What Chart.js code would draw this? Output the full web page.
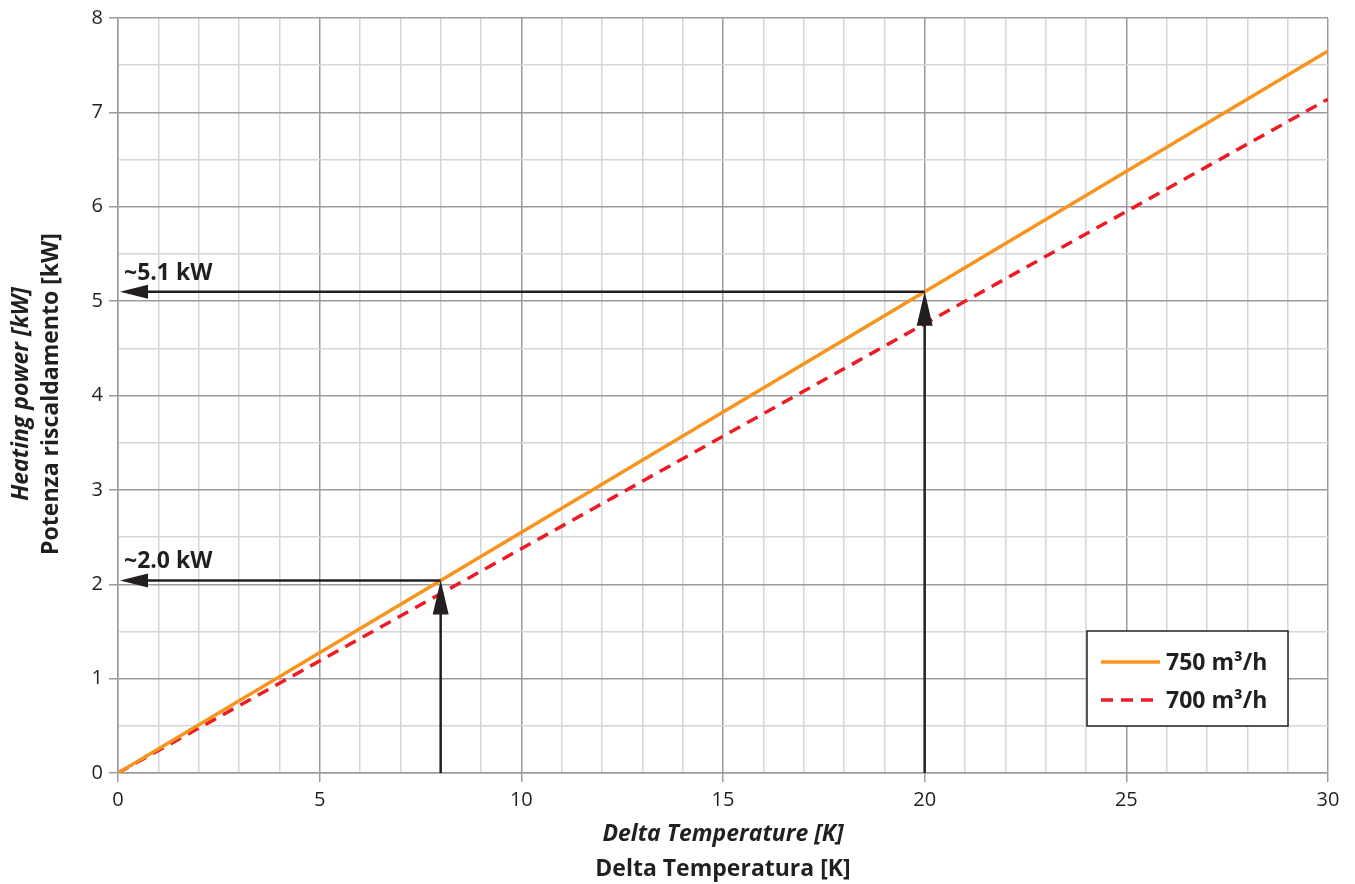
<!DOCTYPE html>
<html>
<head>
<meta charset="utf-8">
<script src="https://cdn.jsdelivr.net/npm/chart.js@4.4.0/dist/chart.umd.min.js"></script>
<style>
  html, body { margin: 0; padding: 0; background: #fff; }
  #wrap { width: 1355px; height: 884px; }
</style>
</head>
<body>
<div id="wrap"><canvas id="chart" width="1355" height="884"></canvas></div>
<script>
// Delta temperature [K] sample points
const deltaT = [0, 8, 20, 30];
const power750 = [0, 2.04, 5.1, 7.65];
const power700 = [0, 1.9, 4.76, 7.14];
const seriesLabels = ['750 m³/h', '700 m³/h'];

// reading arrows: from the x axis up to the 750 line, then left to the y axis
const arrowX = [8, 20];
const arrowY = [2.04, 5.1];
const arrowLabels = ['~2.0 kW', '~5.1 kW'];

const FONT = '"Open Sans", "Noto Sans", sans-serif';
const INK = '#231f20';
const MAJOR = '#9b9b9b';
const MINOR = '#d6d6d6';

function toPoints(xs, ys) {
    return xs.map((x, i) => ({ x: x, y: ys[i] }));
}

// draws the two reading arrows with their labels
const arrowPlugin = {
    id: 'arrows',
    afterDatasetsDraw(chart) {
        const ctx = chart.ctx;
        const xs = chart.scales.x;
        const ys = chart.scales.y;
        ctx.save();
        ctx.strokeStyle = INK;
        ctx.fillStyle = INK;
        ctx.lineWidth = 2.5;
        arrowX.forEach((xv, i) => {
            const px = xs.getPixelForValue(xv);
            const py = ys.getPixelForValue(arrowY[i]);
            const x0 = xs.getPixelForValue(0);
            const y0 = ys.getPixelForValue(0);
            // vertical shaft
            ctx.beginPath();
            ctx.moveTo(px, y0);
            ctx.lineTo(px, py + 30);
            ctx.stroke();
            // up head
            ctx.beginPath();
            ctx.moveTo(px, py);
            ctx.lineTo(px - 8, py + 34);
            ctx.lineTo(px + 8, py + 34);
            ctx.closePath();
            ctx.fill();
            // horizontal shaft
            ctx.beginPath();
            ctx.moveTo(px, py);
            ctx.lineTo(x0 + 26, py);
            ctx.stroke();
            // left head
            ctx.beginPath();
            ctx.moveTo(x0 + 2, py);
            ctx.lineTo(x0 + 30, py - 7);
            ctx.lineTo(x0 + 30, py + 7);
            ctx.closePath();
            ctx.fill();
            // label
            ctx.font = 'bold 23px ' + FONT;
            ctx.textAlign = 'left';
            ctx.textBaseline = 'alphabetic';
            ctx.fillText(arrowLabels[i], x0 + 6, py - 12);
        });
        ctx.restore();
    }
};

// boxed legend inside the plot, lower right
const legendPlugin = {
    id: 'boxLegend',
    afterDraw(chart) {
        const ctx = chart.ctx;
        const area = chart.chartArea;
        const w = 201, h = 95;
        const left = area.right - 241;
        const top = area.bottom - 142;
        ctx.save();
        ctx.fillStyle = '#fff';
        ctx.fillRect(left, top, w, h);
        ctx.strokeStyle = INK;
        ctx.lineWidth = 1.5;
        ctx.strokeRect(left, top, w, h);
        chart.data.datasets.forEach((ds, i) => {
            const yy = top + 31 + i * 38;
            ctx.strokeStyle = ds.borderColor;
            ctx.lineWidth = 3.5;
            ctx.setLineDash(ds.borderDash || []);
            ctx.beginPath();
            ctx.moveTo(left + 14, yy);
            ctx.lineTo(left + 73, yy);
            ctx.stroke();
            ctx.setLineDash([]);
            ctx.fillStyle = INK;
            ctx.font = 'bold 23px ' + FONT;
            ctx.textAlign = 'left';
            ctx.textBaseline = 'middle';
            ctx.fillText(ds.label, left + 79, yy + 1);
        });
        ctx.restore();
    }
};

// two-line axis titles: English in bold italic, Italian in bold
const titlePlugin = {
    id: 'axisTitles',
    afterDraw(chart) {
        const ctx = chart.ctx;
        const area = chart.chartArea;
        const cx = (area.left + area.right) / 2;
        ctx.save();
        ctx.fillStyle = INK;
        ctx.textAlign = 'center';
        ctx.textBaseline = 'middle';
        ctx.font = 'italic bold 23px ' + FONT;
        ctx.fillText('Delta Temperature [K]', cx, 834);
        ctx.font = 'bold 23px ' + FONT;
        ctx.fillText('Delta Temperatura [K]', cx, 869);
        ctx.translate(21, 394);
        ctx.rotate(-Math.PI / 2);
        ctx.font = 'italic bold 23px ' + FONT;
        ctx.fillText('Heating power [kW]', 0, 0);
        ctx.font = 'bold 23px ' + FONT;
        ctx.fillText('Potenza riscaldamento [kW]', 0, 30);
        ctx.restore();
    }
};

const gridColor = (step) => (c) => {
    const v = c.tick ? c.tick.value : 0;
    return Math.abs(v / step - Math.round(v / step)) < 1e-6 ? MAJOR : MINOR;
};
const tickMarkColor = (step) => (c) => {
    const v = c.tick ? c.tick.value : 0;
    return Math.abs(v / step - Math.round(v / step)) < 1e-6 ? MAJOR : 'rgba(0,0,0,0)';
};

new Chart(document.getElementById('chart').getContext('2d'), {
    type: 'line',
    data: {
        datasets: [
            {
                label: seriesLabels[0],
                data: toPoints(deltaT, power750),
                borderColor: '#f7941d',
                borderWidth: 3.5,
                pointRadius: 0,
                fill: false,
                order: 1
            },
            {
                label: seriesLabels[1],
                data: toPoints(deltaT, power700),
                borderColor: '#ed1c24',
                borderWidth: 3.5,
                borderDash: [12, 8],
                pointRadius: 0,
                fill: false,
                order: 2
            }
        ]
    },
    options: {
        responsive: false,
        animation: false,
        layout: { padding: { top: 17, right: 27, left: 0, bottom: 0 } },
        plugins: {
            legend: { display: false },
            tooltip: { enabled: false }
        },
        scales: {
            x: {
                type: 'linear',
                min: 0,
                max: 30,
                afterFit: (s) => { s.height = 111; },
                border: { display: true, color: MAJOR, width: 1.5 },
                grid: {
                    color: gridColor(5),
                    tickColor: tickMarkColor(5),
                    lineWidth: 1.5,
                    tickLength: 9
                },
                ticks: {
                    stepSize: 1,
                    autoSkip: false,
                    maxRotation: 0,
                    padding: 6,
                    color: INK,
                    font: { family: FONT, size: 20 },
                    callback: (v) => (v % 5 === 0 ? v : '')
                }
            },
            y: {
                type: 'linear',
                min: 0,
                max: 8,
                afterFit: (s) => { s.width = 118; },
                border: { display: true, color: MAJOR, width: 1.5 },
                grid: {
                    color: gridColor(1),
                    tickColor: tickMarkColor(1),
                    lineWidth: 1.5,
                    tickLength: 9
                },
                ticks: {
                    stepSize: 0.5,
                    autoSkip: false,
                    padding: 6,
                    color: INK,
                    font: { family: FONT, size: 20 },
                    callback: (v) => (Number.isInteger(v) ? v : '')
                }
            }
        }
    },
    plugins: [arrowPlugin, legendPlugin, titlePlugin]
});
</script>
</body>
</html>
